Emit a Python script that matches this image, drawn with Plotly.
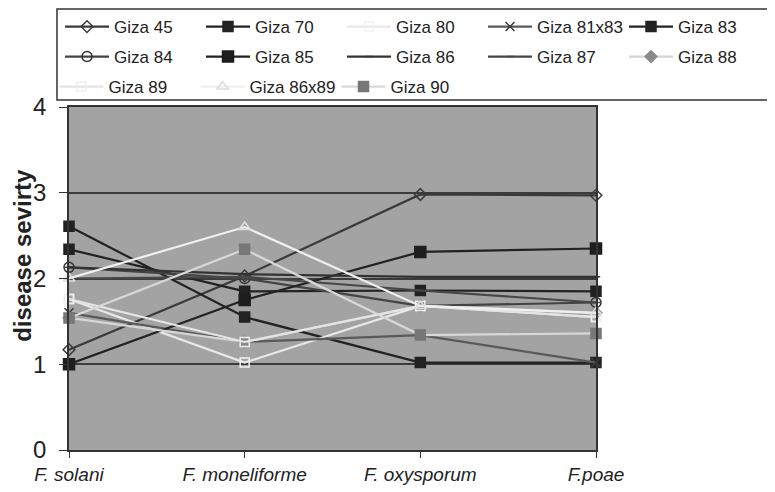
import plotly.graph_objects as go

categories = ["F. solani", "F. moneliforme", "F. oxysporum", "F.poae"]
tick_labels = ["<i>F. solani</i>", "<i>F. moneliforme</i>", "<i>F. oxysporum</i>", "<i>F.poae</i>"]
y_title = "disease sevirty"

giza_45 = [1.17, 2.03, 2.98, 2.97]
giza_70 = [2.61, 1.55, 1.02, 1.02]
giza_80 = [1.76, 1.02, 1.68, 1.55]
giza_81x83 = [1.60, 1.26, 1.34, 1.02]
giza_83 = [2.34, 1.85, 1.86, 1.85]
giza_84 = [2.13, 2.00, 1.68, 1.72]
giza_85 = [1.00, 1.75, 2.31, 2.35]
giza_86 = [2.13, 2.05, 2.02, 2.02]
giza_87 = [2.00, 2.02, 1.86, 1.72]
giza_88 = [1.54, 1.26, 1.68, 1.60]
giza_89 = [1.76, 1.26, 1.68, 1.55]
giza_86x89 = [2.00, 2.60, 1.68, 1.60]
giza_90 = [1.54, 2.34, 1.34, 1.36]

series = [
    ("Giza 45", giza_45, "#3a3a3a", "diamond-open", 9, "#3a3a3a", "legend"),
    ("Giza 70", giza_70, "#222222", "square", 10, "#222222", "legend"),
    ("Giza 80", giza_80, "#e8e8e8", "square-open", 9, "#f2f2f2", "legend"),
    ("Giza 81x83", giza_81x83, "#5a5a5a", "x-thin-open", 9, "#3a3a3a", "legend"),
    ("Giza 83", giza_83, "#222222", "square", 10, "#222222", "legend"),
    ("Giza 84", giza_84, "#444444", "circle-open", 10, "#333333", "legend2"),
    ("Giza 85", giza_85, "#222222", "square", 11, "#1e1e1e", "legend2"),
    ("Giza 86", giza_86, "#333333", "line-ew-open", 6, "#333333", "legend2"),
    ("Giza 87", giza_87, "#474747", "line-ew-open", 6, "#474747", "legend2"),
    ("Giza 88", giza_88, "#d6d6d6", "diamond", 9, "#8a8a8a", "legend2"),
    ("Giza 89", giza_89, "#e4e4e4", "square-open", 9, "#eeeeee", "legend3"),
    ("Giza 86x89", giza_86x89, "#f0f0f0", "triangle-up-open", 10, "#dddddd", "legend3"),
    ("Giza 90", giza_90, "#d8d8d8", "square-x", 10, "#777777", "legend3"),
]

fig = go.Figure()
for name, vals, lc, sym, size, mc, lg in series:
    fig.add_trace(go.Scatter(
        x=categories, y=vals, name=name, mode="lines+markers",
        line=dict(color=lc, width=2.2),
        marker=dict(symbol=sym, size=size, color=mc,
                    line=dict(color=mc, width=1.5)),
        cliponaxis=False, legend=lg,
    ))

fig.add_annotation(
    text="<b>" + y_title + "</b>", textangle=-90,
    xref="paper", yref="paper", x=-0.088, y=0.568,
    xanchor="center", yanchor="middle", showarrow=False,
    font=dict(size=24, color="#222222"),
)

# legend frame
fig.add_shape(
    type="rect", xref="paper", yref="paper",
    x0=-0.0228, x1=1.330, y0=1.0204, y1=1.2857,
    line=dict(color="#333333", width=1.5), fillcolor="white", layer="below",
)

leg_common = dict(
    orientation="h", bgcolor="rgba(0,0,0,0)", borderwidth=0,
    font=dict(size=17, color="#222222"),
    entrywidth=82, entrywidthmode="pixels", itemwidth=44,
)

fig.update_layout(
    width=767, height=484,
    margin=dict(l=61, r=179, t=99, b=42, autoexpand=False),
    paper_bgcolor="white",
    plot_bgcolor="#a3a3a3",
    font=dict(family="Liberation Sans, Arial, sans-serif", color="#222222"),
    showlegend=True,
    legend=dict(x=1.3207, xanchor="right", y=1.2332, yanchor="middle", **leg_common),
    legend2=dict(x=1.3207, xanchor="right", y=1.1458, yanchor="middle", **leg_common),
    legend3=dict(x=-0.0275, xanchor="left", y=1.0583, yanchor="middle", **leg_common),
    xaxis=dict(
        type="category",
        range=[0, 3],
        tickmode="array", tickvals=categories, ticktext=tick_labels,
        showgrid=False,
        showline=True, linecolor="#333333", linewidth=1.5,
        mirror=True,
        ticks="outside", ticklen=6, tickcolor="#333333",
        tickfont=dict(size=19, color="#222222"),
        zeroline=False,
    ),
    yaxis=dict(
        range=[0, 4], dtick=1,
        showgrid=True, gridcolor="#3c3c3c", gridwidth=1.5,
        showline=True, linecolor="#333333", linewidth=1.5,
        mirror=True,
        ticks="outside", ticklen=8, tickcolor="#333333",
        ticklabelstandoff=8,
        tickfont=dict(size=24, color="#222222"),
        zeroline=False,
    ),
)

fig.write_html("out.html")
